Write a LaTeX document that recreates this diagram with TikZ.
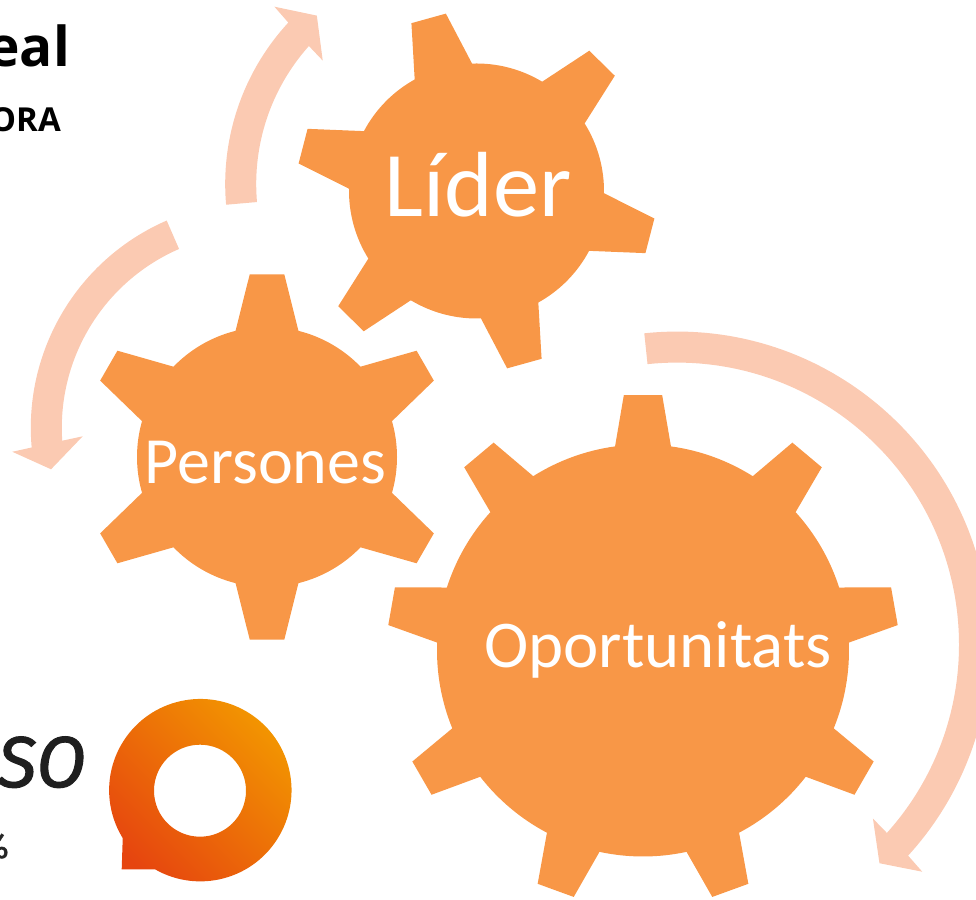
\documentclass[tikz,border=0pt]{standalone}
\usepackage{fontspec}
\setmainfont{Carlito}
\newfontfamily\headfont{Open Sans}
\newfontfamily\logofont[FakeBold=1.5]{Fira Sans}
\definecolor{gearorange}{HTML}{F89747}
\definecolor{arrowpeach}{HTML}{FBCAB2}
\definecolor{logored}{HTML}{E6450F}
\definecolor{logoamber}{HTML}{F39A00}
\tikzset{
	gearbody/.style={fill=gearorange, draw=none},
	ringarrow/.style={fill=arrowpeach, draw=none},
	gearlabel/.style={anchor=base, text=white, inner sep=0pt},
	cutlabel/.style={anchor=base east, text=black, inner sep=0pt}
}
% centre x, centre y, body radius, tip radius, teeth, first tooth, half base, half tip
\newcommand{\drawgear}[8]{
	\fill[gearbody,shift={(#1,#2)}] ({#6-#7}:#3)
		\foreach \k [evaluate=\k as \a using #6+\k*360/#5] in {0,...,\numexpr#5-1\relax}{
			-- ({\a-#7}:#3) -- ({\a-#8}:#4) -- ({\a+#8}:#4) -- ({\a+#7}:#3)
			arc[start angle={\a+#7}, end angle={\a+360/#5-#7}, radius=#3]
		} -- cycle;
}

\begin{document}
\begin{tikzpicture}[x=1pt, y=1pt]
		\useasboundingbox (0,0) rectangle (976,899);
		\clip (0,0) rectangle (976,899);
		%Arrows
		\fill[ringarrow,shift={(463.2,715)}] (185:238) arc[start angle=185, end angle=137.3, radius=238]
			-- (136.8:259) -- (131:223.1) -- (138.7:187) -- (138.2:207)
			arc[start angle=138.2, end angle=185, radius=207] -- cycle;
		\fill[ringarrow,shift={(256.8,471.2)}] (113.5:226) arc[start angle=113.5, end angle=185, radius=226]
			-- (185.6:245.7) -- (191.4:209.9) -- (182.8:174.3) -- (183.8:195)
			arc[start angle=183.8, end angle=113.5, radius=195] -- cycle;
		\fill[ringarrow,shift={(677,254.4)}] (96:313) arc[start angle=96, end angle=-42.4, radius=313]
			-- (-42.8:334.3) -- (-47.2:298) -- (-41.6:262) -- (-41.9:282)
			arc[start angle=-41.9, end angle=96, radius=282] -- cycle;
		%Gears
		\drawgear{476.5}{708}{127.5}{180}{6}{105.5}{13.5}{5.7}
		\drawgear{267}{442}{130}{183.5}{6}{90}{14}{5.4}
		\drawgear{643}{248.5}{206}{256}{9}{90}{7.8}{4.3}
		\node [gearlabel,font=\fontsize{92.5}{92.5}\selectfont] (lider) at (478,682) {Líder};
		\node [gearlabel,font=\fontsize{66}{66}\selectfont] (persones) at (265.5,415) {Persones};
		\node [gearlabel,font=\fontsize{66.8}{66.8}\selectfont] (oportunitats) at (658,231) {Oportunitats};
		%Cut off texts
		\node [cutlabel,font=\headfont\bfseries\fontsize{55}{55}\selectfont] (title) at (70,832) {eal};
		\node [cutlabel,font=\headfont\bfseries\fontsize{33}{33}\selectfont] (subtitle) at (61,767) {ORA};
		\node [cutlabel,font=\logofont\itshape\fontsize{72}{72}\selectfont,text=black!88] (brand) at (86,112) {SO};
		\node [cutlabel,font=\logofont\fontsize{34}{34}\selectfont,text=black!85] (percent) at (9,41) {\%};
		%Logo
		\shade[even odd rule, left color=logoamber, right color=logored, shading angle=-45]
			(121.7,29.7) -- (155,29.7) arc[start angle=240.2, end angle=571.7, radius=91.2] -- cycle
			(246,108.3) arc[start angle=0, end angle=360, radius=46];
\end{tikzpicture}
\end{document}
